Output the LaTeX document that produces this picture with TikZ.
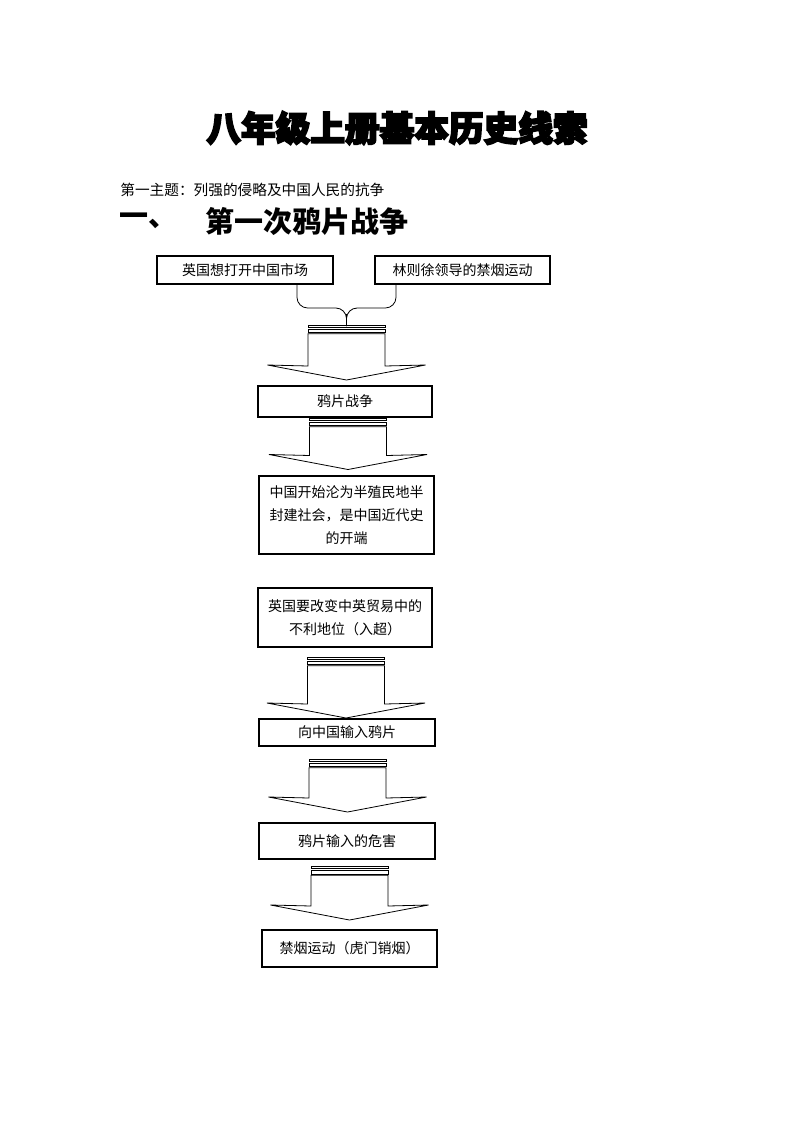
\documentclass[tikz,border=0pt]{standalone}
\usepackage{fontspec}
\setmainfont{Noto Sans CJK SC}
\newfontfamily\titlefont[FakeBold=5]{Noto Sans CJK SC}
\usetikzlibrary{arrows}

\tikzset{
  pics/stripearrow/.style={code={
    \draw (-38.5,0) rectangle (38.5,2.3);
    \draw (-38.5,4.3) rectangle (38.5,7.7);
    \draw (-38.5,8.7) -- (-38.5,#1-14) -- (-79,#1-15) -- (0,#1) -- (79,#1-15) -- (38.5,#1-14) -- (38.5,8.7) -- cycle;
  }}
}

\begin{document}
\begin{tikzpicture}[x=0.75pt,y=-0.75pt,line width=0.6pt]
    \tikzstyle{every node}=[font=\fontsize{10.5pt}{17.5pt}\selectfont]
    \tikzstyle{box}=[draw,line width=0.8pt,inner sep=0pt,align=center]
    \useasboundingbox (0,0) rectangle (793,1122);
    \node[font=\titlefont\bfseries\fontsize{26pt}{26pt}\selectfont] (title) at (397,128) {八年级上册基本历史线索};
    \node[anchor=west,inner sep=0pt,font=\fontsize{11pt}{11pt}\selectfont] (theme) at (120,190) {第一主题：列强的侵略及中国人民的抗争};
    \node[anchor=west,inner sep=0pt,font=\bfseries\fontsize{21.75pt}{21.75pt}\selectfont] (num) at (119,221) {一、};
    \node[anchor=west,inner sep=0pt,font=\bfseries\fontsize{21.75pt}{21.75pt}\selectfont] (head) at (205,221) {第一次鸦片战争};
    \node[box,minimum width=132pt,minimum height=21pt] (market) at (245,270) {英国想打开中国市场};
    \node[box,minimum width=131.25pt,minimum height=21pt] (ban) at (462.5,270) {林则徐领导的禁烟运动};
    \node[box,minimum width=130.5pt,minimum height=23.25pt] (war) at (345,401.5) {鸦片战争};
    \node[box,text width=131.25pt,minimum height=58.5pt] (start) at (346.5,515) {中国开始沦为半殖民地半\\封建社会，是中国近代史\\的开端};
    \node[box,text width=130.5pt,minimum height=44.25pt,font=\fontsize{10.5pt}{17.25pt}\selectfont] (trade) at (345,617.5) {英国要改变中英贸易中的\\不利地位（入超）};
    \node[box,minimum width=132pt,minimum height=20.25pt] (opium) at (347,732.5) {向中国输入鸦片};
    \node[box,minimum width=132pt,minimum height=27pt] (harm) at (347,841) {鸦片输入的危害};
    \node[box,minimum width=131.25pt,minimum height=27.75pt] (humen) at (349.5,948.5) {禁烟运动（虎门销烟）};
    \coordinate (bl) at (297,284);
    \coordinate (br) at (396,284);
    \coordinate (join) at (346.5,326);
    \draw[rounded corners=8pt] (bl) |- (346.5,308) -- (join);
    \draw[rounded corners=8pt] (br) |- (346.5,308) -- (join);
    \draw[line width=1.3pt] (346.5,314) -- (join);
    \pic at (346.5,325) {stripearrow=55};
    \pic at (348,418) {stripearrow=51.5};
    \pic at (346,657) {stripearrow=61};
    \pic at (347.5,759) {stripearrow=53};
    \pic at (349.5,866.5) {stripearrow=53.5};
    \end{tikzpicture}
\end{document}
